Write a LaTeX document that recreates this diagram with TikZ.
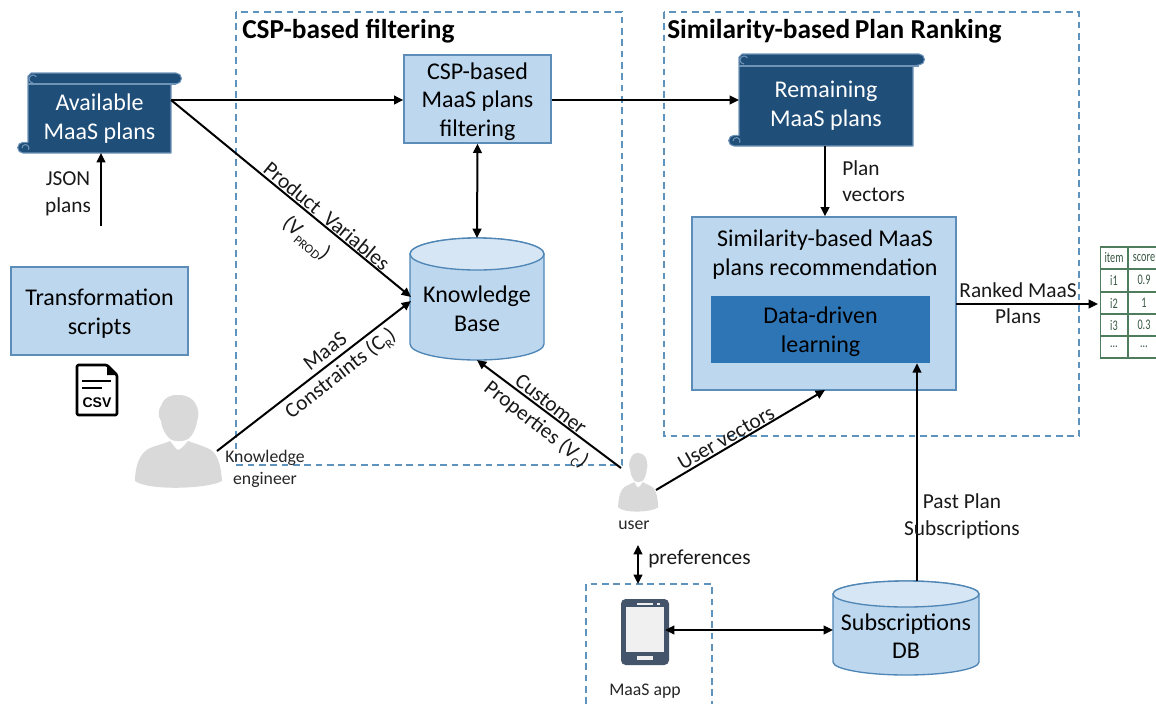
\documentclass[tikz,border=0pt]{standalone}
\usepackage{fontspec}
\setmainfont{Carlito}
\newfontfamily\csvfont{Liberation Sans}
\usetikzlibrary{arrows.meta}
\definecolor{boxfill}{HTML}{BDD7EE}
\definecolor{boxline}{HTML}{5B8DB8}
\definecolor{scrollfill}{HTML}{1F4E79}
\definecolor{scrollline}{HTML}{6F94B8}
\definecolor{dashc}{HTML}{5E93BE}
\definecolor{innerfill}{HTML}{2E75B6}
\definecolor{persong}{HTML}{D9D9D9}
\definecolor{cyltop}{HTML}{D6E6F5}
\definecolor{cylline}{HTML}{4F86B5}
\definecolor{tabg}{HTML}{4E7D5E}
\definecolor{phonec}{HTML}{44546A}
\newcommand{\bodyfont}{\fontsize{18}{21.5}\selectfont}
\newcommand{\subfont}[1]{\raisebox{-0.45ex}{\fontsize{9.5}{9.5}\selectfont #1}}
\tikzset{
 x=0.75pt,y=-0.75pt,
 arr/.style={draw=black,line width=1.5pt,-{Triangle[length=7pt,width=6.5pt]}},
 darr/.style={draw=black,line width=1.5pt,{Triangle[length=7pt,width=6.5pt]}-{Triangle[length=7pt,width=6.5pt]}},
 dashbox/.style={draw=dashc,line width=1pt,dash pattern=on 5pt off 3.5pt},
 bluebox/.style={draw=boxline,fill=boxfill,line width=1pt,align=center,font=\bodyfont,inner sep=0pt},
 lab/.style={font=\fontsize{16}{20}\selectfont,align=center,inner sep=0pt,text=black!90},
 smalllab/.style={font=\fontsize{13.3}{16.5}\selectfont,align=center,inner sep=0pt,text=black!85},
 title/.style={font=\bfseries\fontsize{20.5}{24}\selectfont,inner sep=0pt,anchor=west},
 scrolltext/.style={font=\bodyfont,align=center,text=white,inner sep=0pt},
 tabtext/.style={font=\fontsize{11}{13}\selectfont,text=tabg!70!black,inner sep=0pt,xscale=0.7,transform shape},
}
% #1 left x, #2 right x body, #3 right x band, #4 top, #5 band bottom, #6 bottom
\newcommand{\scrollshape}[6]{%
 \fill[scrollfill,draw=scrollline,line width=0.8pt,line join=round]
   (#1,#4+3) -- (#1+3,#4) -- (#3-5,#4) arc[start angle=90,end angle=-90,radius=4.1pt] -- (#2,#5) -- (#2,#6)
   -- (#1-5,#6) arc[start angle=270,end angle=90,radius=4pt] -- (#1,#6-10.7) -- cycle;
 \draw[scrollline,line width=0.8pt] (#1+5,#4+10) arc[start angle=270,end angle=30,radius=3pt];
 \draw[scrollline,line width=0.8pt] (#1,#5) -- (#3-5,#5);
 \draw[scrollline,line width=0.8pt] (#1-6,#6-5) arc[start angle=180,end angle=-30,radius=2.6pt];
}
% #1 left, #2 right, #3 top, #4 bottom, #5 ellipse half height
\newcommand{\cylshape}[5]{%
 \path[fill=boxfill,draw=cylline,line width=1pt] (#1,#3+#5) -- (#1,#4-#5)
   .. controls (#1,#4-0.45*#5) and (#1*0.775+#2*0.225,#4) .. ({(#1+#2)/2},#4)
   .. controls (#1*0.225+#2*0.775,#4) and (#2,#4-0.45*#5) .. (#2,#4-#5) -- (#2,#3+#5)
   .. controls (#2,#3+0.45*#5) and (#1*0.225+#2*0.775,#3) .. ({(#1+#2)/2},#3)
   .. controls (#1*0.775+#2*0.225,#3) and (#1,#3+0.45*#5) .. (#1,#3+#5) -- cycle;
 \path[fill=cyltop,draw=cylline,line width=1pt] (#1,#3+#5)
   .. controls (#1,#3+1.55*#5) and (#1*0.775+#2*0.225,#3+2*#5) .. ({(#1+#2)/2},#3+2*#5)
   .. controls (#1*0.225+#2*0.775,#3+2*#5) and (#2,#3+1.55*#5) .. (#2,#3+#5)
   .. controls (#2,#3+0.45*#5) and (#1*0.225+#2*0.775,#3) .. ({(#1+#2)/2},#3)
   .. controls (#1*0.775+#2*0.225,#3) and (#1,#3+0.45*#5) .. (#1,#3+#5) -- cycle;
}
% person silhouette: #1,#2 centre, #3 x scale, #4 y scale
\newcommand{\personshape}[4]{%
 \begin{scope}[shift={(#1,#2)},x=#3*0.75pt,y=-#4*0.75pt]
  \fill[persong] (-43,34) .. controls (-42,20) and (-38,10) .. (-30,5) .. controls (-22,1) and (-14,0) .. (-8,-3)
    .. controls (-4,2) and (-2,5) .. (0,6) .. controls (3,5) and (6,2) .. (10,-3)
    .. controls (18,0) and (26,2) .. (33,6) .. controls (40,11) and (43,22) .. (44,37)
    .. controls (30,45) and (-30,47) .. (-43,37) -- cycle;
  \fill[persong] (-8,-5) .. controls (-13,-10) and (-16,-15) .. (-17,-23) .. controls (-20,-27) and (-20,-35) .. (-17,-38)
    .. controls (-14,-47) and (-6,-50) .. (1,-49) .. controls (10,-49) and (17,-44) .. (19,-37)
    .. controls (21,-32) and (21,-27) .. (19,-23) .. controls (18,-15) and (15,-9) .. (10,-5) .. controls (5,-2) and (-3,-2) .. (-8,-5) -- cycle;
 \end{scope}}
\begin{document}
\begin{tikzpicture}
\useasboundingbox (0,0) rectangle (1156,704);
% dashed groups
\draw[dashbox] (236,12) rectangle (622,465);
\draw[dashbox] (664,12) rectangle (1079,436);
\draw[dashbox] (586,704) -- (586,584) -- (712,584) -- (712,704);
\node[title] (t1) at (242,31) {CSP-based filtering};
\node[title] (t2) at (667,31) {Similarity-based\,Plan Ranking};
% scrolls
\scrollshape{28}{171}{181}{73}{84}{153}
\node[scrolltext] (avail) at (99.5,118.5) {Available\\MaaS plans};
\coordinate (availE) at (171,100);
\coordinate (availS) at (101,153);
\scrollshape{739}{913}{924}{54}{66}{146}
\node[scrolltext] (remain) at (826,105.5) {Remaining\\MaaS plans};
\coordinate (remainW) at (739,100);
\coordinate (remainS) at (825,146);
% boxes
\node[bluebox,minimum width=147*0.75pt,minimum height=88*0.75pt] (csp) at (477.5,99) {};
\node[font=\bodyfont,align=center,inner sep=0pt] (cspt) at (477.5,101.5) {CSP-based\\MaaS plans\\filtering};
\node[bluebox,minimum width=177*0.75pt,minimum height=88*0.75pt] (trans) at (99.5,311) {};
\node[font=\bodyfont,align=center,inner sep=0pt] (transt) at (99.5,313.5) {Transformation\\scripts};
\node[bluebox,minimum width=264*0.75pt,minimum height=173*0.75pt] (sim) at (824,303.5) {};
\node[font=\bodyfont,align=center,inner sep=0pt] (simt) at (825,254.5) {Similarity-based MaaS\\plans recommendation};
\node[fill=innerfill,draw=none,minimum width=219*0.75pt,minimum height=67*0.75pt,inner sep=0pt] (learn) at (820.5,329.5) {};
\node[font=\bodyfont,align=center,inner sep=0pt] (learnt) at (820.5,332) {Data-driven\\learning};
% cylinders
\cylshape{410}{544}{238}{360}{16}
\node[font=\bodyfont,align=center,inner sep=0pt,minimum width=134*0.75pt,minimum height=122*0.75pt] (kb) at (477,309) {Knowledge\\Base};
\cylshape{833}{979}{581}{675}{13}
\node[font=\bodyfont,align=center,inner sep=0pt] (subs) at (906,636) {Subscriptions\\DB};
\coordinate (subsN) at (917,581);
\coordinate (subsW) at (833,630);
\coordinate (kbN) at (477,238);
\coordinate (kbS) at (477,360);
\coordinate (kbW1) at (411,297);
\coordinate (kbW2) at (411,301);
% people
\personshape{178}{444}{1}{1}
\personshape{638}{484}{0.46}{0.63}
\coordinate (engE) at (217,451);
\coordinate (userW) at (621,468);
\coordinate (userE) at (656,490);
\coordinate (userS) at (638,545);
\coordinate (appN) at (638,584);
\coordinate (simS) at (825,390);
\coordinate (jsonS) at (101,226);
\coordinate (tabW) at (1098,304);
\coordinate (simE) at (956,304);
\coordinate (phoneE) at (665,630);
% csv icon
\draw[black,line width=2pt,line join=round,rounded corners=1pt] (77,365) -- (107,365) -- (117,375) -- (117,415) -- (77,415) -- cycle;
\fill[black] (107,365) -- (117,375) -- (107,375) -- cycle;
\draw[black,line width=1.5pt] (82,381) -- (111,381) (82,388) -- (102,388);
\node[font=\csvfont\bfseries\fontsize{10.5}{11}\selectfont,inner sep=0pt] (csv) at (97,403) {CSV};
% phone
\fill[phonec,rounded corners=3.5pt] (621,599) rectangle (669,665);
\fill[white!94!black] (626,607) rectangle (664,652);
\fill[white!94!black] (637,603) rectangle (653,604.5);
\fill[white!94!black] (657,603) rectangle (660,604.5);
\fill[white!94!black] (637,656) rectangle (653,660);
% table
\begin{scope}
\clip (1095,240) rectangle (1156,365);
\draw[tabg,line width=1pt] (1100.5,247) rectangle (1160,358);
\foreach \yy in {269,292,314,336} \draw[tabg,line width=1pt] (1100.5,\yy) -- (1160,\yy);
\draw[tabg,line width=1pt] (1128,247) -- (1128,358);
\end{scope}
\foreach \nm/\xx/\yy/\tx in {a/1114/258/item,b/1144/258/score,c/1114/280/i1,d/1144/280/0.9,e/1114/303/i2,f/1144/303/1,g/1114/325/i3,h/1144/325/0.3}
 \node[tabtext] (tab\nm) at (\xx,\yy) {\tx};
\node[tabtext] (tabi) at (1114,347) {\ldots};
\node[tabtext] (tabj) at (1144,347) {\ldots};
% connectors
\draw[arr] (availE) -- (csp.west |- availE);
\draw[arr] (csp.east |- remainW) -- (remainW);
\draw[arr] (availE) -- (kbW1);
\draw[arr] (jsonS) -- (availS);
\draw[darr] (csp.south) -- (kbN);
\draw[arr] (engE) -- (kbW2);
\draw[arr] (userW) -- (kbS);
\draw[arr] (userE) -- (simS);
\draw[arr] (remainS) -- (remainS |- sim.north);
\draw[arr] (subsN) -- (subsN |- learn.south);
\draw[arr] (simE) -- (tabW);
\draw[darr] (userS) -- (appN);
\draw[darr] (phoneE) -- (subsW);
% labels
\node[lab,rotate=-39.5] (l1) at (327,216) {Product\ \ Variables};
\node[lab,rotate=-39.5] (l2) at (306,239) {(V\subfont{PROD})};
\node[lab,rotate=38] (l3) at (325,351) {MaaS};
\node[lab,rotate=38] (l4) at (341,374) {Constraints (C\subfont{R})};
\node[lab,rotate=-38] (l5) at (551,404) {Customer};
\node[lab,rotate=-38] (l6) at (536,425) {Properties (V\subfont{C})};
\node[lab,rotate=30] (l7) at (726,438) {User vectors};
\node[lab,anchor=north west,align=left] (l8) at (842,160) {Plan\\vectors};
\node[lab] (l9) at (1018,303) {Ranked MaaS\\Plans};
\node[lab] (l10) at (962,516) {Past Plan\\Subscriptions};
\node[lab,anchor=west] (l11) at (648,559) {preferences};
\node[lab] (json) at (68,194) {JSON\\plans};
\node[smalllab] (l12) at (634,525) {user};
\node[smalllab] (l13) at (645,691) {MaaS app};
\node[smalllab,align=center] (l14) at (265,469) {Knowledge\\engineer};
\end{tikzpicture}
\end{document}
